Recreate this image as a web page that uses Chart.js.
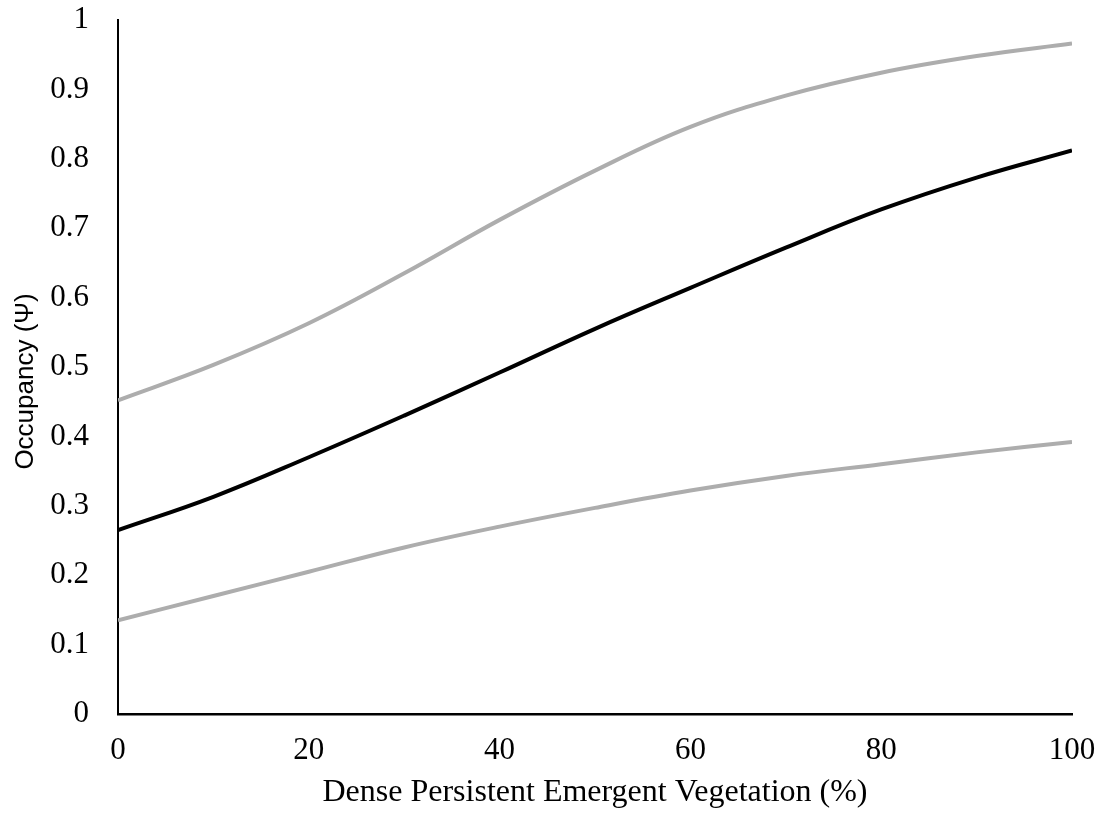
<!DOCTYPE html>
<html>
<head>
<meta charset="utf-8">
<script src="https://cdn.jsdelivr.net/npm/chart.js@4"></script>
<style>
html,body{margin:0;padding:0;background:#fff;}
#wrap{width:1105px;height:816px;position:relative;}
</style>
</head>
<body>
<div id="wrap"><canvas id="c" width="1105" height="816"></canvas></div>
<script>
const xValues = [0, 10, 20, 30, 40, 50, 60, 70, 80, 90, 100];
const upperCI = [0.452, 0.503, 0.563, 0.635, 0.712, 0.783, 0.846, 0.891, 0.924, 0.948, 0.966];
const estimate = [0.265, 0.313, 0.370, 0.430, 0.492, 0.555, 0.614, 0.672, 0.727, 0.773, 0.812];
const lowerCI = [0.135, 0.170, 0.205, 0.240, 0.270, 0.297, 0.322, 0.343, 0.360, 0.377, 0.392];
const yTicks = [0, 0.1, 0.2, 0.3, 0.4, 0.5, 0.6, 0.7, 0.8, 0.9, 1];
const yTickLabels = ['0', '0.1', '0.2', '0.3', '0.4', '0.5', '0.6', '0.7', '0.8', '0.9', '1'];
const xTicks = [0, 20, 40, 60, 80, 100];
const xTickLabels = ['0', '20', '40', '60', '80', '100'];

const toPts = arr => xValues.map((x, i) => ({x: x, y: arr[i]}));
const serif = '"Liberation Serif", "Times New Roman", serif';

new Chart(document.getElementById('c'), {
  type: 'line',
  data: {
    datasets: [
      {label: 'Upper', data: toPts(upperCI), borderColor: '#ADADAD', borderWidth: 4, pointRadius: 0, tension: 0.4, fill: false},
      {label: 'Occupancy', data: toPts(estimate), borderColor: '#000000', borderWidth: 4, pointRadius: 0, tension: 0.4, fill: false},
      {label: 'Lower', data: toPts(lowerCI), borderColor: '#ADADAD', borderWidth: 4, pointRadius: 0, tension: 0.4, fill: false}
    ]
  },
  options: {
    responsive: false,
    animation: false,
    layout: {padding: 0},
    plugins: {legend: {display: false}, tooltip: {enabled: false}},
    scales: {
      x: {
        type: 'linear', min: 0, max: 100,
        afterBuildTicks: s => { s.ticks = xTicks.map(v => ({value: v})); },
        grid: {display: false, drawTicks: false},
        border: {display: true, color: '#000', width: 2.5},
        ticks: {color: '#000', padding: 18, font: {family: serif, size: 31},
          callback: (v) => xTickLabels[xTicks.indexOf(v)] ?? String(v)},
        title: {display: true, text: 'Dense Persistent Emergent Vegetation (%)', color: '#000', padding: {top: 0, bottom: 4}, font: {family: serif, size: 32}},
        afterFit: s => { s.height = 102; s.paddingRight = 33; s.paddingLeft = 0; }
      },
      y: {
        type: 'linear', min: 0, max: 1,
        afterBuildTicks: s => { s.ticks = yTicks.map(v => ({value: v})); },
        grid: {display: false, drawTicks: false},
        border: {display: true, color: '#000', width: 2},
        ticks: {color: '#000', padding: 29, font: {family: serif, size: 31},
          callback: (v) => { const i = yTicks.findIndex(t => Math.abs(t - v) < 1e-9); return i >= 0 ? yTickLabels[i] : String(v); }},
        title: {display: true, text: 'Occupancy (Ψ)    ', color: '#000', padding: {top: 10, bottom: 0}, font: {family: '"Liberation Sans", Arial, sans-serif', size: 26}},
        afterFit: s => { s.width = 118; s.paddingTop = 20; s.paddingBottom = 0; }
      }
    }
  }
});
</script>
</body>
</html>
